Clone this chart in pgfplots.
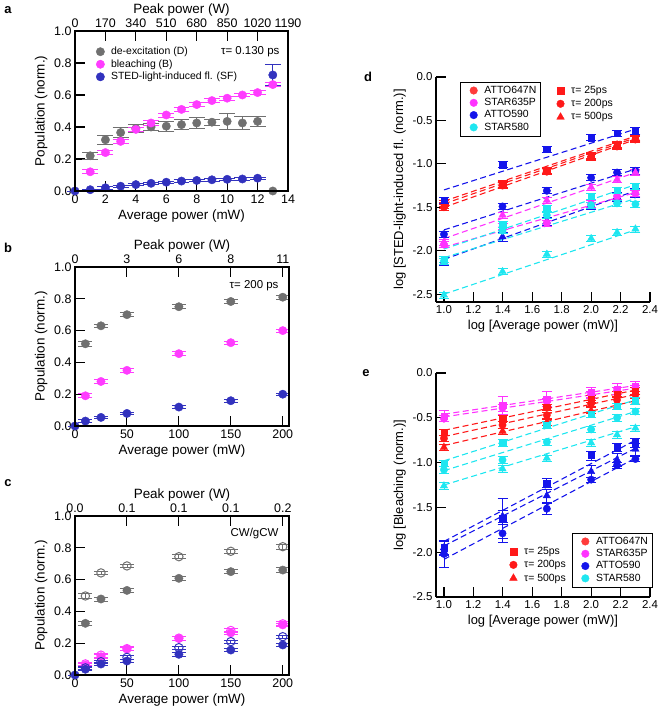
\documentclass[border=0pt]{standalone}
\usepackage{pgfplots}
\pgfplotsset{compat=1.18}
\usepackage{fontspec}
\setmainfont{Liberation Sans}
\definecolor{cGray}{RGB}{112,112,112}
\definecolor{cMag}{RGB}{255,60,255}
\definecolor{cBlu}{RGB}{50,50,190}
\definecolor{dRed}{RGB}{255,25,25}
\definecolor{dMag}{RGB}{255,50,255}
\definecolor{dBlu}{RGB}{20,20,235}
\definecolor{dCya}{RGB}{30,230,240}
\pgfplotsset{
  common/.style={scale only axis, tick align=inside, major tick length=10bp,
    axis line style={line width=1.1pt}, tick style={black, line width=1.1pt},
    /pgf/number format/assume math mode=true, clip=false, legend cell align=left},
  leftax/.style={common, width=214bp, height=159bp, xmin=0, ymin=0, ymax=1,
    ytick={0,0.2,0.4,0.6,0.8,1.0},
    yticklabel style={/pgf/number format/fixed, /pgf/number format/fixed zerofill, /pgf/number format/precision=1},
    xtick pos=lower, ytick pos=left,
    tick label style={font=\fontsize{12.5}{14}\selectfont},
    label style={font=\fontsize{13.5}{15}\selectfont},
    ylabel={Population (norm.)}, xlabel={Average power (mW)}},
  topax/.style={common, width=214bp, height=159bp, xmin=0, ymin=0, ymax=1,
    xtick pos=upper, xticklabel pos=upper, ytick=\empty,
    tick label style={font=\fontsize{12.5}{14}\selectfont},
    label style={font=\fontsize{13.5}{15}\selectfont},
    xlabel style={yshift=-4bp},
    xlabel={Peak power (W)}},
  lp/.style={only marks, forget plot, mark=*, mark size=4.2,
    error bars/y dir=both, error bars/y explicit, error bars/error bar style={line width=0.8pt},
    error bars/error mark options={rotate=90, mark size=8, line width=0.8pt}},
  cap7/.style={error bars/error mark options={rotate=90, mark size=7, line width=0.8pt}},
  rightax/.style={common, width=214bp, xmin=0.946, xmax=2.4, ymax=0,
    axis lines*=left, axis line style={-},
    xtick={1.0,1.2,1.4,1.6,1.8,2.0,2.2,2.4},
    ytick={-2.5,-2.0,-1.5,-1.0,-0.5,0.0},
    tick label style={font=\fontsize{11.5}{13}\selectfont, /pgf/number format/fixed, /pgf/number format/fixed zerofill, /pgf/number format/precision=1},
    label style={font=\fontsize{13}{15}\selectfont},
    xlabel={log [Average power (mW)]}},
  fit/.style={dashed, dash pattern=on 6bp off 3.5bp, line width=1.1pt, forget plot, mark=none},
  dpt/.style={only marks, forget plot, mark size=3.5, mark options={solid},
    error bars/y dir=both, error bars/y fixed=0.035, error bars/error bar style={line width=0.7pt, solid},
    error bars/error mark options={rotate=90, mark size=5, line width=0.7pt, solid}},
  sq/.style={mark=square*, mark size=3.2},
  ci/.style={mark=*, mark size=3.7},
  tr/.style={mark=triangle*, mark size=4.3},
  legm/.style={only marks, legend image code/.code={\path (0cm,0cm) (0.7cm,0cm); \draw[##1] plot coordinates {(0.4cm,0cm)};}},
  dyeleg/.style={draw=black, thin, font=\fontsize{10.5}{12.5}\selectfont, row sep=-0.5pt, inner xsep=2pt},
  tauleg/.style={draw=none, fill=none, font=\fontsize{10.5}{12.5}\selectfont, row sep=0.5pt},
}
\begin{document}
\begin{tikzpicture}[x=1bp,y=1bp]
\path[use as bounding box] (0,0) rectangle (660,707);
\node[font=\bfseries\fontsize{13}{15}\selectfont] at (8,697) {a};
\node[font=\bfseries\fontsize{13}{15}\selectfont] at (8,459) {b};
\node[font=\bfseries\fontsize{13}{15}\selectfont] at (8,224) {c};
\node[font=\bfseries\fontsize{13}{15}\selectfont] at (368,630) {d};
\node[font=\bfseries\fontsize{13}{15}\selectfont] at (366,334) {e};

% ---------------- panel a
\begin{axis}[leftax, at={(75bp,516bp)}, anchor=south west, width=213bp, height=160bp,
  xmax=14, xtick={0,2,4,6,8,10,12,14},
  legend style={at={(0.05,0.925)}, anchor=north west, draw=none, fill=none,
    font=\fontsize{10.5}{12}\selectfont, row sep=-0.5pt}]
\addplot[lp, cGray] table[x index=0, y index=1, y error index=2, row sep=\\] {
1 0.22 0.022\\ 2 0.32 0.03\\ 3 0.365 0.03\\ 4 0.39 0.025\\ 5 0.40 0.02\\ 6 0.405 0.03\\
7 0.415 0.03\\ 8 0.425 0.035\\ 9 0.43 0.02\\ 10 0.435 0.05\\ 11 0.425 0.04\\ 12 0.435 0.03\\ 13 0.0 0.0\\};
\addplot[lp, cMag] table[x index=0, y index=1, y error index=2, row sep=\\] {
1 0.12 0.012\\ 2 0.24 0.012\\ 3 0.31 0.015\\ 4 0.385 0.012\\ 5 0.425 0.015\\ 6 0.475 0.012\\
7 0.51 0.012\\ 8 0.54 0.012\\ 9 0.565 0.012\\ 10 0.58 0.012\\ 11 0.60 0.01\\ 12 0.615 0.012\\ 13 0.665 0.012\\};
\addplot[ycomb, black, line width=0.9pt, mark=none, forget plot] coordinates {
(2,0.062) (6,0.058) (10,0.076) (12,0.083)};
\addplot[lp, cBlu] table[x index=0, y index=1, y error index=2, row sep=\\] {
0 0.0 0\\ 1 0.008 0.005\\ 2 0.02 0.01\\ 3 0.03 0.008\\ 4 0.04 0.008\\ 5 0.048 0.008\\ 6 0.055 0.008\\
7 0.062 0.008\\ 8 0.066 0.008\\ 9 0.07 0.008\\ 10 0.073 0.008\\ 11 0.075 0.008\\ 12 0.08 0.008\\ 13 0.725 0.065\\};
\addlegendimage{legm, mark=*, mark size=4.2, cGray}
\addlegendentry{de-excitation (D)}
\addlegendimage{legm, mark=*, mark size=4.2, cMag}
\addlegendentry{bleaching (B)}
\addlegendimage{legm, mark=*, mark size=4.2, cBlu}
\addlegendentry{STED-light-induced fl. (SF)}
\node[anchor=east, font=\fontsize{11.5}{13}\selectfont] at (rel axis cs:0.976,0.87) {τ= 0.130 ps};
\end{axis}
\begin{axis}[topax, at={(75bp,516bp)}, anchor=south west, width=213bp, height=160bp,
  xmax=14, xtick={0,2,4,6,8,10,12,14},
  xticklabels={0,170,340,510,680,850,1020,1190}]
\end{axis}

% ---------------- panel b
\begin{axis}[leftax, at={(75bp,281bp)}, anchor=south west, xmax=206, xtick={0,50,100,150,200}]
\addplot[lp, cap7, cGray] table[x index=0, y index=1, y error index=2, row sep=\\] {
10 0.517 0.015\\ 25 0.630 0.012\\ 50 0.700 0.012\\ 100 0.750 0.012\\ 150 0.783 0.012\\ 200 0.810 0.012\\};
\addplot[lp, cap7, cMag] table[x index=0, y index=1, y error index=2, row sep=\\] {
10 0.190 0.012\\ 25 0.280 0.012\\ 50 0.350 0.012\\ 100 0.455 0.012\\ 150 0.524 0.01\\ 200 0.600 0.01\\};
\addplot[lp, cap7, cBlu] table[x index=0, y index=1, y error index=2, row sep=\\] {
0 0 0\\ 10 0.031 0.008\\ 25 0.054 0.008\\ 50 0.079 0.008\\ 100 0.119 0.008\\ 150 0.159 0.008\\ 200 0.200 0.008\\};
\node[anchor=east, font=\fontsize{11.5}{13}\selectfont] at (rel axis cs:0.967,0.88) {τ= 200 ps};
\end{axis}
\begin{axis}[topax, at={(75bp,281bp)}, anchor=south west, xmax=206,
  xtick={0,50,100,150,200}, xticklabels={0,3,6,8,11}]
\end{axis}

% ---------------- panel c
\begin{axis}[leftax, at={(75bp,32bp)}, anchor=south west, xmax=206, xtick={0,50,100,150,200}]
\addplot[lp, cap7, cGray, mark=o, mark options={line width=1pt}] table[x index=0, y index=1, y error index=2, row sep=\\] {
10 0.497 0.015\\ 25 0.642 0.012\\ 50 0.686 0.012\\ 100 0.744 0.012\\ 150 0.778 0.015\\ 200 0.807 0.015\\};
\addplot[lp, cap7, cGray] table[x index=0, y index=1, y error index=2, row sep=\\] {
10 0.325 0.015\\ 25 0.478 0.012\\ 50 0.532 0.012\\ 100 0.608 0.012\\ 150 0.650 0.012\\ 200 0.660 0.015\\};
\addplot[lp, cap7, cMag] table[x index=0, y index=1, y error index=2, row sep=\\] {
10 0.063 0.012\\ 25 0.115 0.012\\ 50 0.164 0.012\\ 100 0.230 0.012\\ 150 0.265 0.012\\ 200 0.315 0.012\\};
\addplot[lp, cap7, cMag, mark=o, mark options={line width=1pt}] table[x index=0, y index=1, y error index=2, row sep=\\] {
10 0.070 0.012\\ 25 0.125 0.012\\ 50 0.166 0.012\\ 100 0.232 0.012\\ 150 0.280 0.012\\ 200 0.322 0.012\\};
\addplot[lp, cap7, cBlu, mark=o, mark options={line width=1pt}] table[x index=0, y index=1, y error index=2, row sep=\\] {
10 0.045 0.01\\ 25 0.084 0.01\\ 50 0.111 0.01\\ 100 0.172 0.01\\ 150 0.210 0.01\\ 200 0.241 0.01\\};
\addplot[lp, cap7, cBlu] table[x index=0, y index=1, y error index=2, row sep=\\] {
0 0 0\\ 10 0.036 0.01\\ 25 0.069 0.01\\ 50 0.088 0.01\\ 100 0.130 0.01\\ 150 0.157 0.01\\ 200 0.189 0.01\\};
\node[anchor=east, font=\fontsize{11.5}{13}\selectfont] at (rel axis cs:0.967,0.887) {CW/gCW};
\end{axis}
\begin{axis}[topax, at={(75bp,32bp)}, anchor=south west, xmax=206,
  xtick={0,50,100,150,200}, xticklabels={0.0,0.1,0.1,0.1,0.2}]
\end{axis}

% ---------------- panel d
\begin{axis}[rightax, at={(436bp,405bp)}, anchor=south west, height=225bp, ymin=-2.59,
  ylabel={log [STED-light-induced fl. (norm.)]},
  legend style={dyeleg, at={(0.112,0.978)}, anchor=north west}]
\addplot[fit, dRed] coordinates {(1,-1.43) (2.301,-0.68)};
\addplot[fit, dRed] coordinates {(1,-1.46) (2.301,-0.70)};
\addplot[fit, dRed] coordinates {(1,-1.50) (2.301,-0.72)};
\addplot[fit, dBlu] coordinates {(1,-1.30) (2.301,-0.60)};
\addplot[fit, dBlu] coordinates {(1,-1.76) (2.301,-1.06)};
\addplot[fit, dBlu] coordinates {(1,-2.10) (2.301,-1.31)};
\addplot[fit, dMag] coordinates {(1,-1.86) (2.301,-1.10)};
\addplot[fit, dMag] coordinates {(1,-1.96) (2.301,-1.33)};
\addplot[fit, dCya] coordinates {(1,-1.98) (2.301,-1.24)};
\addplot[fit, dCya] coordinates {(1,-2.08) (2.301,-1.40)};
\addplot[fit, dCya] coordinates {(1,-2.50) (2.301,-1.76)};
\addplot[dpt, sq, dRed] coordinates {(1,-1.45)(1.398,-1.23)(1.699,-1.07)(2,-0.90)(2.176,-0.79)(2.301,-0.70)};
\addplot[dpt, ci, dRed] coordinates {(1,-1.50)(1.398,-1.25)(1.699,-1.09)(2,-0.92)(2.176,-0.80)(2.301,-0.72)};
\addplot[dpt, tr, dRed] coordinates {(1,-1.48)(1.398,-1.24)(1.699,-1.08)(2,-0.91)(2.176,-0.78)(2.301,-0.71)};
\addplot[dpt, sq, dBlu] coordinates {(1,-1.42)(1.398,-1.01)(1.699,-0.83)(2,-0.70)(2.176,-0.65)(2.301,-0.62)};
\addplot[dpt, ci, dBlu] coordinates {(1,-1.81)(1.398,-1.49)(1.699,-1.31)(2,-1.16)(2.176,-1.10)(2.301,-1.08)};
\addplot[dpt, tr, dBlu, error bars/y fixed=0.05] coordinates {(1,-2.12)(1.398,-1.84)(1.699,-1.66)(2,-1.47)(2.176,-1.38)(2.301,-1.33)};
\addplot[dpt, tr, dMag] coordinates {(1,-1.90)(1.398,-1.59)(1.699,-1.42)(2,-1.27)(2.176,-1.18)(2.301,-1.10)};
\addplot[dpt, ci, dMag] coordinates {(1,-1.93)(1.398,-1.72)(1.699,-1.68)(2,-1.46)(2.176,-1.37)(2.301,-1.34)};
\addplot[dpt, sq, dCya] coordinates {(1,-2.10)(1.398,-1.70)(1.699,-1.51)(2,-1.37)(2.176,-1.30)(2.301,-1.26)};
\addplot[dpt, ci, dCya] coordinates {(1,-2.12)(1.398,-1.77)(1.699,-1.59)(2,-1.475)(2.176,-1.455)(2.301,-1.463)};
\addplot[dpt, tr, dCya] coordinates {(1,-2.51)(1.398,-2.24)(1.699,-2.04)(2,-1.86)(2.176,-1.79)(2.301,-1.75)};
\addlegendimage{legm, mark=*, mark size=3.8, dRed!85!white}
\addlegendentry{ATTO647N}
\addlegendimage{legm, mark=*, mark size=3.8, dMag}
\addlegendentry{STAR635P}
\addlegendimage{legm, mark=*, mark size=3.8, dBlu}
\addlegendentry{ATTO590}
\addlegendimage{legm, mark=*, mark size=3.8, dCya}
\addlegendentry{STAR580}
\end{axis}
\begin{axis}[scale only axis, at={(436bp,405bp)}, anchor=south west, width=214bp, height=225bp,
  xmin=0.946, xmax=2.4, ymin=-2.59, ymax=0, hide axis, legend cell align=left,
  legend style={tauleg, at={(0.513,0.978)}, anchor=north west}]
\addlegendimage{legm, mark=square*, mark size=3.4, dRed}
\addlegendentry{τ= 25ps}
\addlegendimage{legm, mark=*, mark size=3.8, dRed}
\addlegendentry{τ= 200ps}
\addlegendimage{legm, mark=triangle*, mark size=4.4, dRed}
\addlegendentry{τ= 500ps}
\end{axis}

% ---------------- panel e
\begin{axis}[rightax, at={(436bp,110bp)}, anchor=south west, height=224bp, ymin=-2.5,
  ylabel={log [Bleaching (norm.)]},
  legend style={dyeleg, at={(1.01,0.045)}, anchor=south east}]
\addplot[fit, dMag] coordinates {(1,-0.46) (2.301,-0.14)};
\addplot[fit, dMag] coordinates {(1,-0.49) (2.301,-0.17)};
\addplot[fit, dRed] coordinates {(1,-0.64) (2.301,-0.19)};
\addplot[fit, dRed] coordinates {(1,-0.71) (2.301,-0.24)};
\addplot[fit, dRed] coordinates {(1,-0.81) (2.301,-0.31)};
\addplot[fit, dCya] coordinates {(1,-0.98) (2.301,-0.30)};
\addplot[fit, dCya] coordinates {(1,-1.09) (2.301,-0.43)};
\addplot[fit, dCya] coordinates {(1,-1.25) (2.301,-0.60)};
\addplot[fit, dBlu] coordinates {(1,-1.88) (2.301,-0.75)};
\addplot[fit, dBlu] coordinates {(1,-1.93) (2.301,-0.84)};
\addplot[fit, dBlu] coordinates {(1,-2.08) (2.301,-0.95)};
\addplot[dpt, sq, dMag, error bars/y explicit] coordinates {(1,-0.48)+-(0,0.06) (1.398,-0.36)+-(0,0.1) (1.699,-0.29)+-(0,0.08) (2,-0.22)+-(0,0.06) (2.176,-0.18)+-(0,0.06) (2.301,-0.15)+-(0,0.06)};
\addplot[dpt, ci, dMag] coordinates {(1,-0.51)(1.398,-0.39)(1.699,-0.32)(2,-0.24)(2.176,-0.20)(2.301,-0.17)};
\addplot[dpt, sq, dRed] coordinates {(1,-0.66)(1.398,-0.51)(1.699,-0.38)(2,-0.29)(2.176,-0.24)(2.301,-0.20)};
\addplot[dpt, ci, dRed] coordinates {(1,-0.73)(1.398,-0.58)(1.699,-0.47)(2,-0.34)(2.176,-0.30)(2.301,-0.24)};
\addplot[dpt, tr, dRed] coordinates {(1,-0.83)(1.398,-0.65)(1.699,-0.55)(2,-0.42)(2.176,-0.37)(2.301,-0.32)};
\addplot[dpt, sq, dCya] coordinates {(1,-1.01)(1.398,-0.78)(1.699,-0.58)(2,-0.46)(2.176,-0.37)(2.301,-0.31)};
\addplot[dpt, ci, dCya] coordinates {(1,-1.08)(1.398,-0.97)(1.699,-0.77)(2,-0.63)(2.176,-0.50)(2.301,-0.43)};
\addplot[dpt, tr, dCya] coordinates {(1,-1.26)(1.398,-1.07)(1.699,-0.95)(2,-0.78)(2.176,-0.69)(2.301,-0.615)};
\addplot[dpt, sq, dBlu, error bars/y explicit] coordinates {(1,-1.95)+-(0,0.08) (1.398,-1.62)+-(0,0.22) (1.699,-1.23)+-(0,0.05) (2,-0.92)+-(0,0.05) (2.176,-0.83)+-(0,0.05) (2.301,-0.78)+-(0,0.05)};
\addplot[dpt, tr, dBlu, error bars/y fixed=0.07] coordinates {(1,-1.95)(1.398,-1.60)(1.699,-1.37)(2,-1.10)(2.176,-0.97)(2.301,-0.85)};
\addplot[dpt, ci, dBlu, error bars/y explicit] coordinates {(1,-2.02)+-(0,0.15) (1.398,-1.79)+-(0,0.1) (1.699,-1.515)+-(0,0.06) (2,-1.19)+-(0,0.03) (2.176,-1.03)+-(0,0.03) (2.301,-0.96)+-(0,0.03)};
\addlegendimage{legm, mark=*, mark size=3.8, dRed!85!white}
\addlegendentry{ATTO647N}
\addlegendimage{legm, mark=*, mark size=3.8, dMag}
\addlegendentry{STAR635P}
\addlegendimage{legm, mark=*, mark size=3.8, dBlu}
\addlegendentry{ATTO590}
\addlegendimage{legm, mark=*, mark size=3.8, dCya}
\addlegendentry{STAR580}
\end{axis}
\begin{axis}[scale only axis, at={(436bp,110bp)}, anchor=south west, width=214bp, height=224bp,
  xmin=0.946, xmax=2.4, ymin=-2.5, ymax=0, hide axis, legend cell align=left,
  legend style={tauleg, at={(0.293,0.241)}, anchor=north west}]
\addlegendimage{legm, mark=square*, mark size=3.4, dRed}
\addlegendentry{τ= 25ps}
\addlegendimage{legm, mark=*, mark size=3.8, dRed}
\addlegendentry{τ= 200ps}
\addlegendimage{legm, mark=triangle*, mark size=4.4, dRed}
\addlegendentry{τ= 500ps}
\end{axis}
\end{tikzpicture}
\end{document}
